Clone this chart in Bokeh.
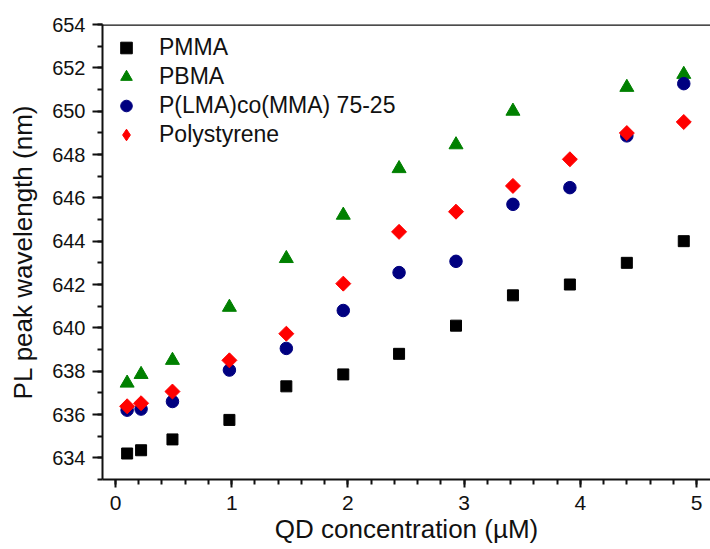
import math
from bokeh.plotting import figure
from bokeh.models import Legend, LegendItem, Span, Range1d, SingleIntervalTicker
from bokeh.embed import file_html
from bokeh.resources import INLINE

# ---- data ----
conc = [0.1, 0.22, 0.49, 0.98, 1.47, 1.96, 2.44, 2.93, 3.42, 3.91, 4.40, 4.89]
pmma = [634.2, 634.35, 634.85, 635.75, 637.3, 637.85, 638.8, 640.1, 641.5, 642.0, 643.0, 644.0]
conc_pbma = [0.1, 0.22, 0.49, 0.98, 1.47, 1.96, 2.44, 2.93, 3.42, 4.40, 4.89]
pbma = [637.45, 637.85, 638.5, 640.95, 643.2, 645.2, 647.35, 648.45, 650.0, 651.1, 651.7]
plma = [636.2, 636.25, 636.6, 638.05, 639.05, 640.8, 642.55, 643.07, 645.7, 646.47, 648.86, 651.27]
polystyrene = [636.38, 636.52, 637.06, 638.5, 639.73, 642.04, 644.43, 645.36, 646.55, 647.78, 648.99, 649.5]

series_names = ["PMMA", "PBMA", "P(LMA)co(MMA) 75-25", "Polystyrene"]
x_label = "QD concentration (\u00b5M)"
y_label = "PL peak wavelength (nm)"

FONT = "Liberation Sans"

p = figure(width=710, height=549, output_backend="svg", toolbar_location=None,
           x_range=Range1d(-0.112, 5.12), y_range=Range1d(633, 654),
           min_border_left=102, min_border_right=0, min_border_top=24, min_border_bottom=70)
p.outline_line_color = None
p.grid.visible = False
p.background_fill_color = "white"
p.border_fill_color = "white"

r1 = p.scatter(conc, pmma, marker="square", size=11, color="#000000")
r2 = p.scatter(conc_pbma, pbma, marker="triangle", size=14, color="#008000")
r3 = p.scatter(conc, plma, marker="circle", size=12.5, color="#000080")
r4 = p.scatter(conc, polystyrene, marker="square", size=10.6, angle=math.pi / 4, color="#ff0000")
# legend-only swatch (no visible point) for the diamond series
nan = float("nan")
r4_key = p.scatter([nan], [nan], marker="diamond", size=14, color="#ff0000")

# axes
xa = p.xaxis[0]
xa.ticker = SingleIntervalTicker(interval=1, num_minor_ticks=5)
ya = p.yaxis[0]
ya.ticker = SingleIntervalTicker(interval=2, num_minor_ticks=2)
for ax in (xa, ya):
    ax.axis_line_width = 2
    ax.axis_line_color = "#111111"
    ax.major_tick_line_width = 2
    ax.minor_tick_line_width = 2
    ax.major_tick_line_color = "#111111"
    ax.minor_tick_line_color = "#111111"
    ax.major_tick_in = 0
    ax.minor_tick_in = 0
    ax.major_label_text_font = FONT
    ax.major_label_text_color = "#111111"
    ax.axis_label_text_font = FONT
    ax.axis_label_text_font_size = "26px"
    ax.axis_label_text_font_style = "normal"
    ax.axis_label_text_color = "#111111"

xa.major_label_text_font_size = "21px"
xa.major_tick_out = 8
xa.minor_tick_out = 5
xa.major_label_standoff = 8
xa.axis_label = x_label
xa.axis_label_standoff = 1

ya.major_label_text_font_size = "20px"
ya.major_tick_out = 10
ya.minor_tick_out = 5
ya.major_label_standoff = 7
ya.axis_label = y_label
ya.axis_label_standoff = 11

# top frame line
p.add_layout(Span(location=654, dimension="width", line_color="#111111", line_width=2.5))

legend = Legend(items=[LegendItem(label=n, renderers=[r]) for n, r in zip(series_names, [r1, r2, r3, r4_key])],
                location="top_left", margin=9, padding=5, spacing=0,
                glyph_width=30, glyph_height=29, label_height=29, label_standoff=18,
                label_text_font=FONT, label_text_font_size="23px", label_text_color="#111111",
                border_line_color=None, background_fill_alpha=0)
p.add_layout(legend)

open("out.html", "w").write(file_html(p, INLINE))
